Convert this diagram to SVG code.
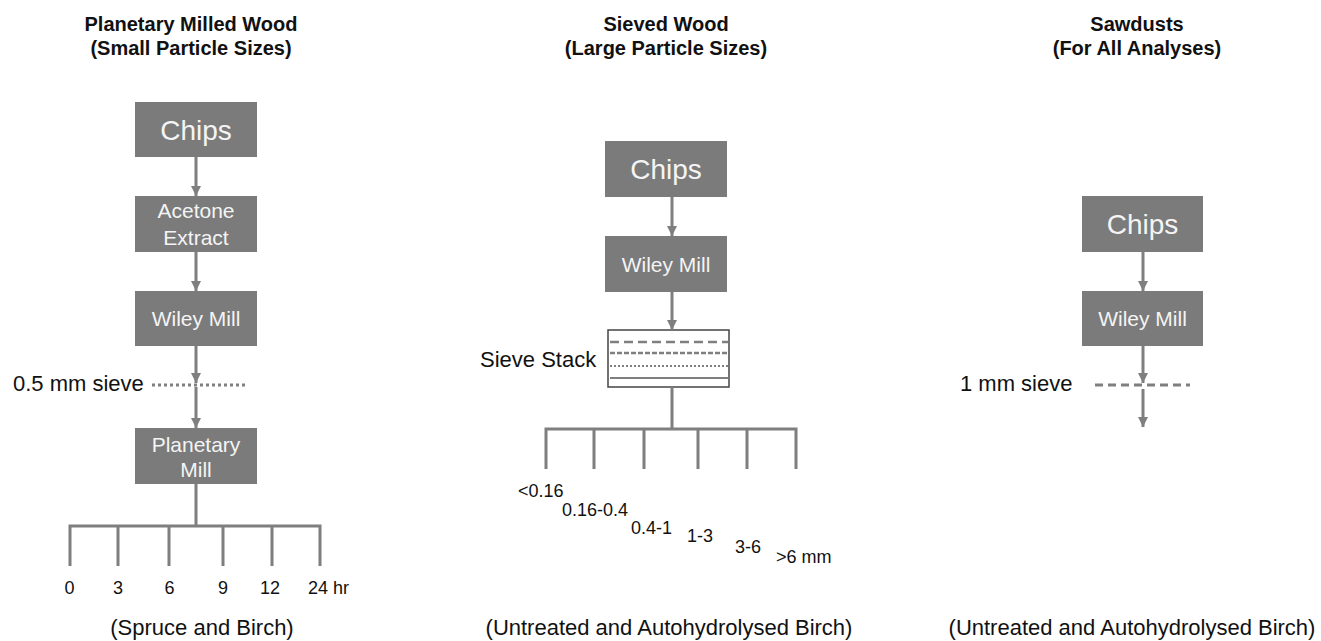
<svg xmlns="http://www.w3.org/2000/svg" width="1321" height="641" viewBox="0 0 1321 641">
<defs>
<marker id="ah" markerUnits="userSpaceOnUse" markerWidth="12" markerHeight="12" refX="10" refY="5" orient="auto">
<path d="M0,0 L10,5 L0,10 Z" fill="#7f7f7f"/>
</marker>
<style>
.title{font-family:"Liberation Sans",Arial,sans-serif;font-weight:bold;font-size:20px;fill:#111;text-anchor:middle}
.box{fill:#7b7b7b}
.bt{font-family:"Liberation Sans",Arial,sans-serif;fill:#f4f4f4;text-anchor:middle}
.lbl{font-family:"Liberation Sans",Arial,sans-serif;font-size:22px;fill:#111}
.sm{font-family:"Liberation Sans",Arial,sans-serif;font-size:18px;fill:#111}
.ln{stroke:#7f7f7f;stroke-width:3;fill:none}
.arr{stroke:#7f7f7f;stroke-width:3;fill:none;marker-end:url(#ah)}
</style>
</defs>
<rect width="1321" height="641" fill="#fff"/>

<g id="titles">
<text class="title" x="191" y="31">Planetary Milled Wood</text>
<text class="title" x="191" y="55">(Small Particle Sizes)</text>
<text class="title" x="666" y="31">Sieved Wood</text>
<text class="title" x="666" y="55">(Large Particle Sizes)</text>
<text class="title" x="1137" y="31">Sawdusts</text>
<text class="title" x="1137" y="55">(For All Analyses)</text>
</g>

<!-- Panel 1 -->
<g id="p1-chips"><rect class="box" x="135" y="102" width="122" height="55"/><text class="bt" x="196" y="140" font-size="28">Chips</text></g>
<g id="p1-acetone"><rect class="box" x="135" y="196" width="122" height="56"/><text class="bt" x="196" y="218" font-size="21">Acetone</text><text class="bt" x="196" y="245" font-size="21">Extract</text></g>
<g id="p1-wiley"><rect class="box" x="135" y="291" width="122" height="55"/><text class="bt" x="196" y="326" font-size="21">Wiley Mill</text></g>
<g id="p1-sieve"><text class="lbl" x="13" y="391" font-size="21">0.5 mm sieve</text><line x1="152" y1="385" x2="247" y2="385" stroke="#7f7f7f" stroke-width="3" stroke-dasharray="3 3"/></g>
<g id="p1-planetary"><rect class="box" x="135" y="428" width="122" height="56"/><text class="bt" x="196" y="452" font-size="21">Planetary</text><text class="bt" x="196" y="477" font-size="21">Mill</text></g>
<g id="p1-times">
<text class="sm" x="69.5" y="594" text-anchor="middle">0</text>
<text class="sm" x="118" y="594" text-anchor="middle">3</text>
<text class="sm" x="169.5" y="594" text-anchor="middle">6</text>
<text class="sm" x="223" y="594" text-anchor="middle">9</text>
<text class="sm" x="270" y="594" text-anchor="middle">12</text>
<text class="sm" x="308" y="594">24 hr</text>
</g>
<g id="p1-foot"><text class="lbl" x="202" y="635" text-anchor="middle">(Spruce and Birch)</text></g>

<!-- Panel 2 -->
<g id="p2-chips"><rect class="box" x="605" y="141" width="122" height="56"/><text class="bt" x="666" y="179" font-size="28">Chips</text></g>
<g id="p2-wiley"><rect class="box" x="605" y="236" width="122" height="56"/><text class="bt" x="666" y="272" font-size="21">Wiley Mill</text></g>
<g id="p2-stack">
<text class="lbl" x="480" y="367" font-size="21">Sieve Stack</text>
<rect x="608" y="330" width="121" height="57" fill="#fff" stroke="#444" stroke-width="1.5"/>
<line x1="610" y1="342" x2="728" y2="342" stroke="#7f7f7f" stroke-width="2.5" stroke-dasharray="9 5"/>
<line x1="610" y1="353" x2="728" y2="353" stroke="#7f7f7f" stroke-width="2.5" stroke-dasharray="5 2"/>
<line x1="610" y1="366" x2="728" y2="366" stroke="#7f7f7f" stroke-width="2" stroke-dasharray="2 2"/>
<line x1="610" y1="378" x2="728" y2="378" stroke="#7f7f7f" stroke-width="2"/>
</g>
<g id="p2-sizes">
<text class="sm" x="518" y="497">&lt;0.16</text>
<text class="sm" x="562" y="516">0.16-0.4</text>
<text class="sm" x="631" y="534">0.4-1</text>
<text class="sm" x="687" y="542">1-3</text>
<text class="sm" x="735" y="553">3-6</text>
<text class="sm" x="776" y="563">&gt;6 mm</text>
</g>
<g id="p2-foot"><text class="lbl" x="669" y="635" text-anchor="middle">(Untreated and Autohydrolysed Birch)</text></g>

<!-- Panel 3 -->
<g id="p3-chips"><rect class="box" x="1082" y="196" width="121" height="56"/><text class="bt" x="1142.5" y="234" font-size="28">Chips</text></g>
<g id="p3-wiley"><rect class="box" x="1082" y="291" width="121" height="55"/><text class="bt" x="1142.5" y="326" font-size="21">Wiley Mill</text></g>
<g id="p3-sieve"><text class="lbl" x="960" y="391" font-size="21">1 mm sieve</text><line x1="1095" y1="385" x2="1190" y2="385" stroke="#7f7f7f" stroke-width="3" stroke-dasharray="8 5"/></g>
<g id="p3-foot"><text class="lbl" x="1132" y="635" text-anchor="middle">(Untreated and Autohydrolysed Birch)</text></g>

<g id="connectors">
<line class="arr" x1="196" y1="157" x2="196" y2="196"/>
<line class="arr" x1="196" y1="252" x2="196" y2="291"/>
<line class="arr" x1="196" y1="346" x2="196" y2="383"/>
<line class="arr" x1="196" y1="387" x2="196" y2="428"/>
<path class="ln" d="M196,484 V526 M70,566 V526 H320 V566 M118,526 V566 M169,526 V566 M223,526 V566 M272,526 V566"/>
<line class="arr" x1="672" y1="197" x2="672" y2="236"/>
<line class="arr" x1="672" y1="292" x2="672" y2="330"/>
<path class="ln" d="M672,387 V429 M546,469 V429 H796 V469 M594,429 V469 M644,429 V469 M698,429 V469 M747,429 V469"/>
<line class="arr" x1="1143" y1="252" x2="1143" y2="291"/>
<line class="arr" x1="1143" y1="346" x2="1143" y2="383"/>
<line class="arr" x1="1143" y1="389" x2="1143" y2="427"/>
</g>
</svg>
